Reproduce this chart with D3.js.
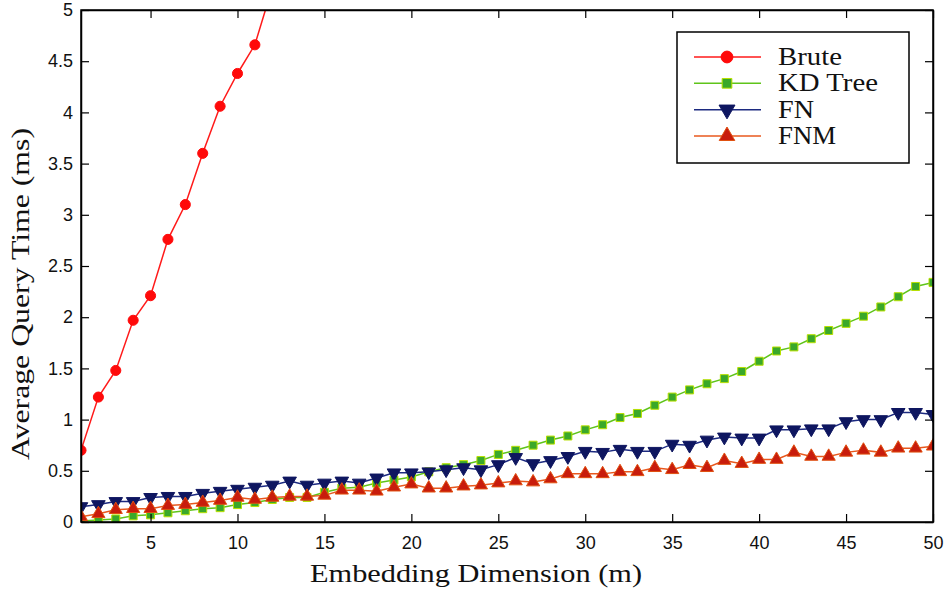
<html>
<script src="https://d3js.org/d3.v7.min.js"></script>
<style>
  body { margin: 0; background: #fff; }
  svg { display: block; }
</style>
<body>
<svg width="945" height="591"></svg>
<script>
    // x values (embedding dimension)
    var dims = [1,2,3,4,5,6,7,8,9,10,11,12,13,14,15,16,17,18,19,20,21,22,23,24,25,
                26,27,28,29,30,31,32,33,34,35,36,37,38,39,40,41,42,43,44,45,46,47,48,49,50];

    // series values
    var brute = [0.70,1.22,1.48,1.97,2.21,2.76,3.10,3.60,4.06,4.38,4.66,5.22];
    var kdTree = [0.01,0.02,0.03,0.06,0.07,0.09,0.11,0.13,0.14,0.17,0.19,0.22,0.24,0.24,0.29,0.33,0.34,0.38,0.41,0.44,
                  0.49,0.53,0.56,0.60,0.66,0.70,0.75,0.80,0.84,0.90,0.95,1.02,1.06,1.14,1.22,1.29,1.35,1.40,1.47,1.57,
                  1.67,1.71,1.79,1.87,1.94,2.01,2.10,2.20,2.30,2.34];
    var fn = [0.15,0.17,0.20,0.20,0.24,0.25,0.25,0.28,0.30,0.32,0.34,0.36,0.40,0.36,0.38,0.40,0.38,0.43,0.48,0.48,
              0.49,0.51,0.53,0.51,0.56,0.63,0.57,0.60,0.64,0.69,0.68,0.71,0.69,0.69,0.76,0.75,0.80,0.83,0.82,0.82,
              0.90,0.90,0.91,0.91,0.98,1.00,1.00,1.07,1.07,1.05];
    var fnm = [0.05,0.08,0.12,0.13,0.13,0.16,0.17,0.19,0.21,0.24,0.22,0.24,0.25,0.25,0.26,0.31,0.31,0.30,0.34,0.37,
               0.33,0.33,0.35,0.36,0.38,0.40,0.39,0.42,0.47,0.47,0.47,0.49,0.49,0.53,0.51,0.56,0.53,0.60,0.57,0.61,
               0.61,0.68,0.64,0.64,0.68,0.70,0.68,0.72,0.72,0.74];

    var xTicks = [5,10,15,20,25,30,35,40,45,50];
    var yTicks = [0,0.5,1,1.5,2,2.5,3,3.5,4,4.5,5];
    var seriesNames = ["Brute", "KD Tree", "FN", "FNM"];

    var svg = d3.select("svg");
    var plotLeft = 81, plotRight = 933, plotTop = 10, plotBottom = 522;

    var x = d3.scaleLinear().domain([1, 50]).range([plotLeft, plotRight]);
    var y = d3.scaleLinear().domain([0, 5]).range([plotBottom, plotTop]);

    svg.append("rect").attr("width", 945).attr("height", 591).attr("fill", "#fff");

    svg.append("clipPath").attr("id", "plotclip")
        .append("rect")
        .attr("x", plotLeft).attr("y", plotTop)
        .attr("width", plotRight - plotLeft).attr("height", plotBottom - plotTop);

    var series = [
        { name: seriesNames[0], values: brute, line: "#ff1a1a", fill: "#ff0a0a", edge: "#ff0a0a", shape: d3.symbolCircle, size: 80 },
        { name: seriesNames[1], values: kdTree, line: "#5fc41a", fill: "#3aa82a", edge: "#b8e000", shape: d3.symbolSquare, size: 64 },
        { name: seriesNames[2], values: fn, line: "#1c2a80", fill: "#0e1660", edge: "#0e1660", shape: d3.symbolTriangle, size: 80, flip: true },
        { name: seriesNames[3], values: fnm, line: "#e8581e", fill: "#c81c0c", edge: "#e05010", shape: d3.symbolTriangle, size: 75 }
    ];

    var line = d3.line()
        .x(function(d){ return x(d.m); })
        .y(function(d){ return y(d.v); });

    var plot = svg.append("g").attr("clip-path", "url(#plotclip)");

    series.forEach(function(s) {
        var pts = s.values.map(function(v, i) { return { m: dims[i], v: v }; });
        plot.append("path")
            .datum(pts)
            .attr("d", line)
            .attr("fill", "none")
            .attr("stroke", s.line)
            .attr("stroke-width", 1.5);
        var sym = d3.symbol().type(s.shape).size(s.size);
        plot.selectAll(null)
            .data(pts)
            .enter().append("path")
            .attr("d", sym)
            .attr("transform", function(d) {
                return "translate(" + x(d.m) + "," + y(d.v) + ")" + (s.flip ? " rotate(180)" : "");
            })
            .attr("fill", s.fill)
            .attr("stroke", s.edge)
            .attr("stroke-width", 1);
    });

    // axes, MATLAB style: box with inward ticks on all sides
    var tickLen = 8;
    var tickFont = "'Liberation Sans', Arial, sans-serif";

    var xAxisBottom = d3.axisBottom(x).tickValues(xTicks).tickSizeInner(-tickLen).tickSizeOuter(0).tickPadding(14);
    var xAxisTop = d3.axisTop(x).tickValues(xTicks).tickSizeInner(-tickLen).tickSizeOuter(0).tickFormat("");
    var yAxisLeft = d3.axisLeft(y).tickValues(yTicks).tickSizeInner(-tickLen).tickSizeOuter(0).tickPadding(8)
        .tickFormat(function(d){ return String(d); });
    var yAxisRight = d3.axisRight(y).tickValues(yTicks).tickSizeInner(-tickLen).tickSizeOuter(0).tickFormat("");

    var gxb = svg.append("g").attr("transform", "translate(0," + plotBottom + ")").call(xAxisBottom);
    svg.append("g").attr("transform", "translate(0," + plotTop + ")").call(xAxisTop);
    svg.append("g").attr("transform", "translate(" + plotLeft + ",0)").call(yAxisLeft);
    svg.append("g").attr("transform", "translate(" + plotRight + ",0)").call(yAxisRight);

    svg.selectAll(".domain").attr("stroke", "#000").attr("stroke-width", 1.5);
    svg.selectAll(".tick line").attr("stroke", "#000").attr("stroke-width", 1.2);
    svg.selectAll(".tick text").attr("font-family", tickFont).attr("font-size", 18).attr("fill", "#111");
    gxb.selectAll(".tick text").attr("dy", "0.71em");

    svg.append("rect")
        .attr("x", plotLeft).attr("y", plotTop)
        .attr("width", plotRight - plotLeft).attr("height", plotBottom - plotTop)
        .attr("fill", "none").attr("stroke", "#000").attr("stroke-width", 1.5);

    // axis titles
    var serif = "'Liberation Serif', 'Times New Roman', serif";
    svg.append("text")
        .attr("x", 476).attr("y", 582)
        .attr("text-anchor", "middle")
        .attr("font-family", serif).attr("font-size", 26)
        .attr("textLength", 332).attr("lengthAdjust", "spacingAndGlyphs")
        .attr("fill", "#111")
        .text("Embedding Dimension (m)");

    svg.append("text")
        .attr("transform", "translate(29,294) rotate(-90)")
        .attr("text-anchor", "middle")
        .attr("font-family", serif).attr("font-size", 26)
        .attr("textLength", 332).attr("lengthAdjust", "spacingAndGlyphs")
        .attr("fill", "#111")
        .text("Average Query Time (ms)");

    // legend
    var legend = svg.append("g");
    legend.append("rect")
        .attr("x", 677).attr("y", 32)
        .attr("width", 232).attr("height", 131)
        .attr("fill", "#fff").attr("stroke", "#000").attr("stroke-width", 1.5);

    var legY = d3.scalePoint().domain(seriesNames).range([57, 136]);
    var legWidths = [64, 100, 36, 58];

    series.forEach(function(s, i) {
        var ly = legY(s.name);
        legend.append("line")
            .attr("x1", 694).attr("x2", 761)
            .attr("y1", ly).attr("y2", ly)
            .attr("stroke", s.line).attr("stroke-width", 1.5);
        legend.append("path")
            .attr("d", d3.symbol().type(s.shape).size(s.size + 30))
            .attr("transform", "translate(727," + ly + ")" + (s.flip ? " rotate(180)" : ""))
            .attr("fill", s.fill).attr("stroke", s.edge).attr("stroke-width", 1);
        legend.append("text")
            .attr("x", 778).attr("y", ly + 8)
            .attr("font-family", serif).attr("font-size", 25)
            .attr("textLength", legWidths[i]).attr("lengthAdjust", "spacingAndGlyphs")
            .attr("fill", "#111")
            .text(s.name);
    });
</script>
</body>
</html>
